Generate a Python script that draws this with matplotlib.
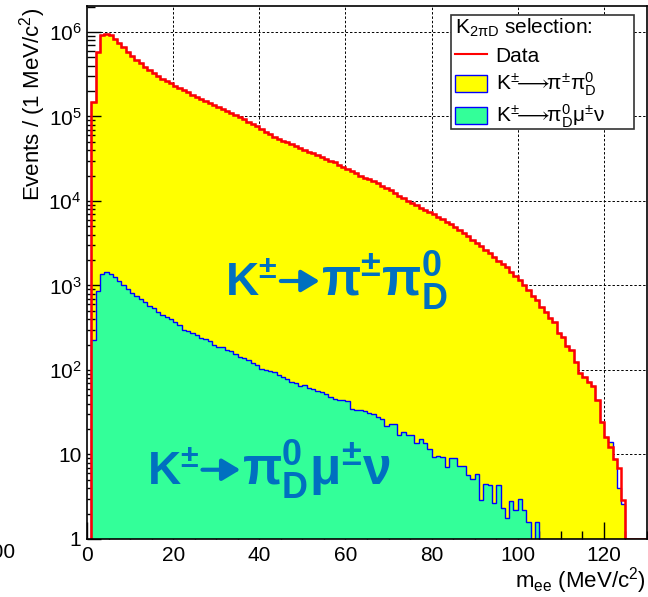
import numpy as np
import matplotlib
matplotlib.use('Agg')
import matplotlib.pyplot as plt
from matplotlib.lines import Line2D
from matplotlib.patches import Patch, Rectangle
from matplotlib.ticker import FixedLocator, FixedFormatter, MultipleLocator, LogLocator, NullFormatter

plt.rcParams['font.family'] = ['Liberation Sans', 'DejaVu Sans']
plt.rcParams['mathtext.fontset'] = 'custom'
plt.rcParams['mathtext.rm'] = 'Liberation Sans'
plt.rcParams['mathtext.it'] = 'Liberation Sans:italic'
plt.rcParams['mathtext.bf'] = 'Liberation Sans:bold'
plt.rcParams['mathtext.fallback'] = 'stixsans'

# --- data : 1 MeV/c2 bins, lower edges 1..124 ---
bin_low = list(range(1, 125))

data_counts = [
    1.5e5, 5.85e5, 9.2e5, 9.5e5, 9.1e5, 8.2e5, 7.5e5, 6.6e5, 5.85e5, 5.2e5,
    4.67e5, 4.26e5, 3.9e5, 3.55e5, 3.3e5, 3.0e5, 2.8e5, 2.6e5, 2.47e5, 2.3e5,
    2.17e5, 2.06e5, 1.93e5, 1.81e5, 1.7e5, 1.6e5, 1.51e5, 1.43e5, 1.36e5, 1.28e5,
    1.22e5, 1.16e5, 1.11e5, 1.05e5, 9.95e4, 9.3e4, 8.7e4, 8.2e4, 7.7e4, 7.2e4,
    6.6e4, 6.2e4, 5.77e4, 5.46e4, 5.17e4, 4.95e4, 4.73e4, 4.48e4, 4.2e4, 4.0e4,
    3.84e4, 3.73e4, 3.5e4, 3.29e4, 3.11e4, 3.0e4, 2.87e4, 2.67e4, 2.5e4, 2.37e4,
    2.28e4, 2.13e4, 2.0e4, 1.85e4, 1.8e4, 1.74e4, 1.62e4, 1.5e4, 1.42e4, 1.35e4,
    1.23e4, 1.16e4, 1.09e4, 1.0e4, 9.4e3, 8.9e3, 8.3e3, 7.8e3, 7.5e3, 6.96e3,
    6.5e3, 6.15e3, 5.7e3, 5.3e3, 4.95e3, 4.5e3, 4.2e3, 3.85e3, 3.5e3, 3.2e3,
    2.93e3, 2.63e3, 2.4e3, 2.19e3, 1.96e3, 1.8e3, 1.64e3, 1.46e3, 1.3e3, 1.15e3,
    1010, 880, 750, 665, 560, 485, 418, 365, 272, 244,
    192, 173, 125, 91, 83, 73, 65, 44, 24, 16,
    12.4, 8.8, 6.9, 2.9,
]

kmu3_counts = [
    226, 868, 1370, 1430, 1370, 1250, 1130, 1010, 902, 822,
    751, 687, 633, 577, 537, 490, 448, 421, 398, 373,
    341, 297, 292, 272, 257, 241, 235, 222, 198, 185,
    185, 172, 168, 155, 144, 140, 131, 120, 115, 102,
    100, 97, 94, 87, 83, 78, 73, 71, 65, 66,
    61, 60, 57, 55, 52, 48, 45, 44, 44, 43,
    35, 34, 33.6, 33, 31, 30, 28, 26, 22, 23,
    23, 17, 18.6, 17, 17, 13.8, 15.1, 13.6, 11.5, 9.3,
    9.7, 9.3, 7.1, 9.0, 9.0, 7.4, 7.4, 5.7, 5.1, 5.9,
    2.9, 4.5, 4.4, 2.7, 4.4, 2.3, 1.76, 2.8, 2.2, 2.95,
    2.2, 1.6, 0, 1.57, 0, 0, 0, 0, 0, 0,
    0, 0, 0, 0, 0, 0, 0, 0, 0, 0,
    0, 0, 0, 0,
]

# MC total differs from data only in a few tail bins
mc_tail = {121: 14, 123: 4.0, 124: 2.6}

x_ticks = [0, 20, 40, 60, 80, 100, 120]
y_ticks = [1, 10, 1e2, 1e3, 1e4, 1e5, 1e6]
y_tick_labels = ['1', '10', '$10^{2}$', '$10^{3}$', '$10^{4}$', '$10^{5}$', '$10^{6}$']

# --- build histos ---
edges = np.append(bin_low, bin_low[-1] + 1)
data = np.array(data_counts, dtype=float)
kmu3 = np.array(kmu3_counts, dtype=float)
mc_total = data.copy()
for b, v in mc_tail.items():
    mc_total[bin_low.index(b)] = v

floor = 0.1
kmu3_plot = np.where(kmu3 > 0, kmu3, floor)

# data extended with empty bins up to the axis end
red_edges = np.arange(edges[0], 131)
red_vals = np.ones(len(red_edges) - 1)
red_vals[:len(data)] = data

W, H = 648, 597
fig = plt.figure(figsize=(W / 100, H / 100), dpi=100)
ax = fig.add_axes([87/W, 58/H, 560/W, 533/H])
ax.set_yscale('log')
ax.set_xlim(0, 130)
ax.set_ylim(1, 2.03e6)

blue = '#0000ff'
ax.stairs(mc_total, edges, baseline=floor, fill=True, color='#ffff00', zorder=1)
ax.stairs(mc_total, edges, baseline=floor, color=blue, lw=1.0, zorder=2)
ax.stairs(kmu3_plot, edges, baseline=floor, fill=True, color='#33ff99', zorder=3)
ax.stairs(kmu3_plot, edges, baseline=floor, color=blue, lw=1.0, zorder=4)
ax.stairs(red_vals, red_edges, baseline=1.0, color='#ff0000', lw=1.8, zorder=5)

# grid behind the fills
ax.vlines(x_ticks[1:], 1, 2.03e6, colors='black', lw=0.7, linestyles=(0, (2.5, 2)), zorder=0.5)
ax.hlines(y_ticks[1:], 0, 130, colors='black', lw=0.7, linestyles=(0, (2.5, 2)), zorder=0.5)

ax.xaxis.set_major_locator(FixedLocator(x_ticks))
ax.xaxis.set_minor_locator(MultipleLocator(5))
ax.yaxis.set_major_locator(FixedLocator(y_ticks))
ax.yaxis.set_major_formatter(FixedFormatter(y_tick_labels))
ax.yaxis.set_minor_locator(LogLocator(base=10, subs=np.arange(2, 10)))
ax.yaxis.set_minor_formatter(NullFormatter())
ax.tick_params(axis='both', which='both', direction='in', labelsize=15, zorder=6)
ax.tick_params(axis='x', which='major', length=12, width=1.0, pad=5)
ax.tick_params(axis='x', which='minor', length=6, width=1.0)
ax.tick_params(axis='y', which='major', length=10, width=1.0, pad=4)
ax.tick_params(axis='y', which='minor', length=6, width=1.0)
for sp in ax.spines.values():
    sp.set_linewidth(1.2)
    sp.set_zorder(7)

fig.text(33/W, 1 - 8/H, 'Events / (1 MeV/c$^{2}$)', rotation=90,
         ha='center', va='top', fontsize=16)
fig.text(646/W, 1 - 581/H, 'm$_{\\mathrm{ee}}$ (MeV/c$^{2}$)',
         ha='right', va='center', fontsize=16)
fig.text(15/W, 1 - 553/H, '100', ha='right', va='center', fontsize=15)

# big labels : K^±, thick arrow, decay products
blue_txt = '#0070c0'
arrow_kw = dict(arrowstyle='-|>,head_length=0.5,head_width=0.3', lw=3.0,
                color=blue_txt, mutation_scale=22, shrinkA=0, shrinkB=0)

ax.text(32.1, 751, r'$\mathbf{K^{\pm}}$', color=blue_txt, fontsize=33,
        ha='left', va='baseline', zorder=8)
ax.annotate('', xy=(54.0, 1130), xytext=(45.0, 1130), arrowprops=arrow_kw, zorder=8)
ax.text(54.4, 751, r'$\mathbf{\pi^{\pm}\pi^{0}_{D}}$', color=blue_txt, fontsize=37,
        ha='left', va='baseline', zorder=8)

ax.text(14.0, 4.36, r'$\mathbf{K^{\pm}}$', color=blue_txt, fontsize=33,
        ha='left', va='baseline', zorder=8)
ax.annotate('', xy=(35.6, 6.6), xytext=(26.8, 6.6), arrowprops=arrow_kw, zorder=8)
ax.text(36.0, 4.36, r'$\mathbf{\pi^{0}_{D}\mu^{\pm}\nu}$', color=blue_txt, fontsize=37,
        ha='left', va='baseline', zorder=8)

# legend : fixed-size box like the ROOT TLegend, entries on top
ax.add_patch(Rectangle((451/W, 1 - 129/H), 183/W, 114/H, transform=fig.transFigure,
                       facecolor='white', edgecolor='#333333', lw=1.2,
                       clip_on=False, zorder=9))
handles = [
    Line2D([], [], color='#ff0000', lw=1.5),
    Patch(facecolor='#ffff00', edgecolor=blue, lw=1.0),
    Patch(facecolor='#33ff99', edgecolor=blue, lw=1.0),
]
labels = ['Data',
          r'$\mathrm{K^{\pm}\!\!{\longrightarrow}\!\!\pi^{\pm}\pi^{0}_{D}}$',
          r'$\mathrm{K^{\pm}\!\!{\longrightarrow}\!\!\pi^{0}_{D}\mu^{\pm}\nu}$']
leg = ax.legend(handles, labels, title=r'K$_{\mathrm{2\pi D}}$ selection:',
                loc='upper left', bbox_to_anchor=((455 - 87) / 560, (539 - 17) / 533),
                borderaxespad=0, borderpad=0, frameon=False,
                fontsize=15, title_fontsize=15, alignment='left',
                handlelength=1.55, handleheight=0.95, handletextpad=0.4,
                labelspacing=0.22)
leg._legend_box.sep = 5
leg.set_zorder(10)

fig.savefig('out.png', dpi=100)
